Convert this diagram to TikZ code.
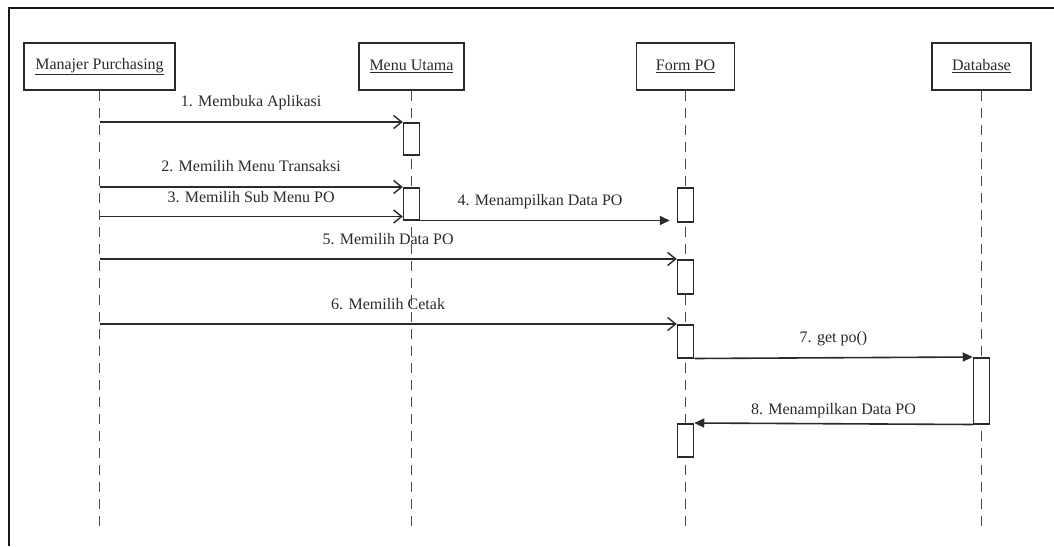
\documentclass[tikz,border=0pt]{standalone}
\usepackage{fontspec}
\setmainfont{Liberation Serif}
\usetikzlibrary{arrows.meta}
\definecolor{ink}{HTML}{2A2A2A}
\tikzset{
  actor/.style={draw=ink, line width=1.6pt, rectangle, inner sep=0pt,
    minimum height=47pt, text=ink, font=\fontsize{16}{19}\selectfont},
  lifeline/.style={draw=ink!85, line width=1.8pt, dash pattern=on 10pt off 7pt},
  act/.style={draw=ink, line width=1.5pt, fill=white, rectangle, inner sep=0pt,
    minimum width=16pt, anchor=north},
  call/.style={draw=ink, line width=1.6pt, -{Straight Barb[length=8pt,width=13pt,line width=1.4pt]}},
  sync/.style={draw=ink, line width=1.6pt, -{Triangle[length=10pt,width=9pt]}},
  lbl/.style={anchor=base, text=ink, font=\fontsize{16}{19}\selectfont, inner sep=0pt},
}
\begin{document}
\begin{tikzpicture}[x=1pt, y=-1pt]
  \useasboundingbox (0,0) rectangle (1054,546);
  % frame edges
  \draw[line width=2.2pt, black!90] (1054,8) -- (9,8) -- (9,546);

  % participants
  \node[actor, minimum width=151pt] (mp) at (99.5,66.5) {\underline{Manajer Purchasing}};
  \node[actor, minimum width=105pt] (mu) at (411.5,66.5) {\underline{Menu Utama}};
  \node[actor, minimum width=98pt]  (fp) at (685.5,66.5) {\underline{Form PO}};
  \node[actor, minimum width=99pt]  (db) at (981.5,66.5) {\underline{Database}};

  % lifelines
  \coordinate (mpend) at (99.5,532);
  \coordinate (muend) at (411.5,532);
  \coordinate (fpend) at (685.5,532);
  \coordinate (dbend) at (981.5,532);
  \draw[lifeline] (mp.south) -- (mpend);
  \draw[lifeline] (mu.south) -- (muend);
  \draw[lifeline] (fp.south) -- (fpend);
  \draw[lifeline] (db.south) -- (dbend);

  % activation bars
  \node[act, minimum height=32pt] (a1) at (411.5,122) {};
  \node[act, minimum height=32pt] (a2) at (411.5,187) {};
  \node[act, minimum height=34pt] (a3) at (685.5,187) {};
  \node[act, minimum height=34pt] (a4) at (685.5,259) {};
  \node[act, minimum height=33pt] (a5) at (685.5,324) {};
  \node[act, minimum height=66pt] (a6) at (981.5,357) {};
  \node[act, minimum height=33pt] (a7) at (685.5,423) {};

  % messages
  \draw[call] (mp |- a1.north west) -- (a1.north west)
    node[lbl, pos=0.5, yshift=16pt] {1. Membuka Aplikasi};
  \draw[call] (mp |- a2.north west) -- (a2.north west)
    node[lbl, pos=0.5, yshift=16pt] {2. Memilih Menu Transaksi};
  \coordinate (m3) at (411.5,216.5);
  \draw[call] (mp |- m3) -- (a2.west |- m3)
    node[lbl, pos=0.5, yshift=14pt] {3. Memilih Sub Menu PO};
  \draw[sync, shorten >=7pt] (a2.south east) -- (a3.west |- a2.south east)
    node[lbl, pos=0.467, yshift=15pt] {4. Menampilkan Data PO};
  \draw[call] (mp |- a4.north west) -- (a4.north west)
    node[lbl, pos=0.5, yshift=15pt] {5. Memilih Data PO};
  \draw[call] (mp |- a5.north west) -- (a5.north west)
    node[lbl, pos=0.5, yshift=15pt] {6. Memilih Cetak};
  \draw[sync] (a5.south east) -- (a6.north west)
    node[lbl, pos=0.5, yshift=15pt] {7. get po()};
  \draw[sync] (a6.south west) -- (a7.north east)
    node[lbl, pos=0.5, yshift=9pt] {8. Menampilkan Data PO};
\end{tikzpicture}
\end{document}
